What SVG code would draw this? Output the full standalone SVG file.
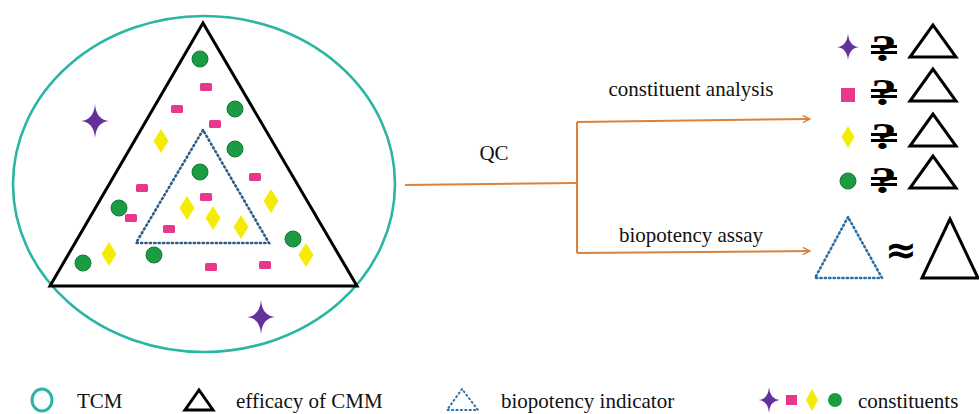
<svg xmlns="http://www.w3.org/2000/svg" xmlns:xlink="http://www.w3.org/1999/xlink" width="979" height="414" viewBox="0 0 979 414">
<style>
.t{font-family:"Liberation Serif","Times New Roman",serif;font-size:21px;fill:#111}
.tri{fill:none;stroke:#000;stroke-width:3;stroke-linejoin:miter}
.dot{fill:none;stroke:#2d5d86;stroke-width:2.6;stroke-dasharray:1.2 3.2;stroke-linecap:round}
.conn{fill:none;stroke:#d8833f;stroke-width:2}
.q{font-family:"Liberation Serif","Times New Roman",serif;font-size:38px;font-weight:bold;fill:#000}
</style>
<defs>
<path id="star" d="M0,-17 Q1.2,-1.2 14,0 Q1.2,1.2 0,17 Q-1.2,1.2 -14,0 Q-1.2,-1.2 0,-17Z" fill="#64309a"/>
<circle id="gc" r="8" fill="#1b9c43" stroke="#137a33" stroke-width="1"/>
<rect id="pr" x="-6" y="-4" width="12" height="8" rx="1.5" fill="#e9378c"/>
<path id="yd" d="M0,-12 L7.5,0 L0,12 L-7.5,0Z" fill="#f4ec06"/>
<marker id="arr" viewBox="0 0 10 10" refX="9" refY="5" markerWidth="9" markerHeight="9" orient="auto" markerUnits="userSpaceOnUse">
<path d="M1,1 L9,5 L1,9" fill="none" stroke="#d8833f" stroke-width="1.6"/>
</marker>
</defs>

<g id="tcm">
<ellipse cx="204" cy="184" rx="191" ry="168" fill="none" stroke="#2bb5a5" stroke-width="2.6"/>
<polygon class="tri" points="203,23 50,286 357,286"/>
<polygon class="dot" points="203,130 136,243 269,243"/>
<use href="#star" x="95" y="121"/>
<use href="#star" x="261" y="317"/>
<use href="#gc" x="200" y="59"/>
<use href="#gc" x="235" y="109"/>
<use href="#gc" x="235" y="149"/>
<use href="#gc" x="200" y="172"/>
<use href="#gc" x="119" y="208"/>
<use href="#gc" x="83" y="263"/>
<use href="#gc" x="154" y="255"/>
<use href="#gc" x="293" y="239"/>
<use href="#pr" x="206" y="87"/>
<use href="#pr" x="177" y="109"/>
<use href="#pr" x="215" y="124"/>
<use href="#pr" x="255" y="177"/>
<use href="#pr" x="142" y="188"/>
<use href="#pr" x="206" y="197"/>
<use href="#pr" x="131" y="218"/>
<use href="#pr" x="169" y="229"/>
<use href="#pr" x="211" y="267"/>
<use href="#pr" x="265" y="265"/>
<use href="#yd" x="161" y="141"/>
<use href="#yd" x="271" y="201"/>
<use href="#yd" x="187" y="208"/>
<use href="#yd" x="213" y="218"/>
<use href="#yd" x="241" y="227"/>
<use href="#yd" x="109" y="254"/>
<use href="#yd" x="306" y="255"/>
</g>

<g id="connectors">
<path class="conn" d="M405,185 L577,183"/>
<path class="conn" d="M577,122 L577,253"/>
<path class="conn" d="M577,122 L810,119" marker-end="url(#arr)"/>
<path class="conn" d="M577,253 L810,251" marker-end="url(#arr)"/>
<text class="t" x="494" y="160" text-anchor="middle">QC</text>
<text class="t" x="691" y="96" text-anchor="middle">constituent analysis</text>
<text class="t" x="691" y="242" text-anchor="middle">biopotency assay</text>
</g>

<g id="constituent-results">
<use href="#star" transform="translate(848,47) scale(0.8)"/>
<rect x="841" y="88" width="14" height="14" fill="#e9378c"/>
<path d="M848,126 L854.5,137 L848,148 L841.5,137Z" fill="#f4ec06"/>
<circle cx="848" cy="181" r="8" fill="#1b9c43" stroke="#137a33"/>
<g id="q1"><text class="q" text-anchor="middle" transform="translate(884,61) scale(1.35,1)">?</text><rect x="871" y="45" width="26" height="3"/><rect x="871" y="51" width="26" height="3"/></g>
<g id="q2"><text class="q" text-anchor="middle" transform="translate(884,105) scale(1.35,1)">?</text><rect x="871" y="89" width="26" height="3"/><rect x="871" y="95" width="26" height="3"/></g>
<g id="q3"><text class="q" text-anchor="middle" transform="translate(884,149) scale(1.35,1)">?</text><rect x="871" y="133" width="26" height="3"/><rect x="871" y="139" width="26" height="3"/></g>
<g id="q4"><text class="q" text-anchor="middle" transform="translate(884,193) scale(1.35,1)">?</text><rect x="871" y="177" width="26" height="3"/><rect x="871" y="183" width="26" height="3"/></g>
<polygon class="tri" points="933,25 910,57 956,57"/>
<polygon class="tri" points="933,69 910,101 956,101"/>
<polygon class="tri" points="933,114 910,146 956,146"/>
<polygon class="tri" points="933,156 910,188 956,188"/>
</g>

<g id="biopotency-result">
<polygon class="dot" points="848,217 815,278 882,278" style="stroke:#2a6fa6"/>
<text x="901" y="263" text-anchor="middle" style="font-family:'DejaVu Sans',sans-serif;font-size:38px;font-weight:bold;fill:#000">≈</text>
<polygon class="tri" points="950,219 922,278 978,278"/>
</g>

<g id="legend">
<ellipse cx="42" cy="400" rx="10" ry="11" fill="none" stroke="#2bb5a5" stroke-width="3"/>
<text class="t" x="77" y="408">TCM</text>
<polygon class="tri" points="199,390 185,410 213,410"/>
<text class="t" x="236" y="408">efficacy of CMM</text>
<polygon class="dot" points="462,389 447,410 478,410" style="stroke:#2a6fa6;stroke-width:2"/>
<text class="t" x="501" y="408">biopotency indicator</text>
<use href="#star" transform="translate(769,400) scale(0.75)"/>
<rect x="786" y="395" width="11" height="10" fill="#e9378c"/>
<path d="M812,389 L818,400 L812,411 L806,400Z" fill="#f4ec06"/>
<circle cx="835" cy="400" r="7" fill="#1b9c43"/>
<text class="t" x="858" y="408">constituents</text>
</g>
</svg>
